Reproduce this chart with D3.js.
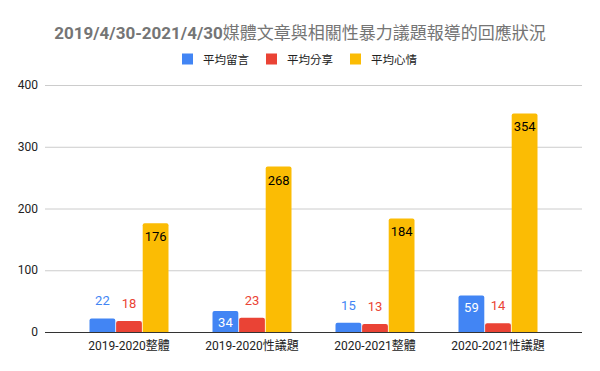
<!DOCTYPE html>
<html><head><meta charset="utf-8">
<script src="https://cdn.jsdelivr.net/npm/d3@7"></script>
<style>body{margin:0;background:#fff}text{font-family:Roboto,"Noto Sans CJK TC",sans-serif}</style>
</head><body><svg id="c" width="600" height="371"></svg>
<script>
const categories = ["2019-2020整體","2019-2020性議題","2020-2021整體","2020-2021性議題"];
const seriesNames = ["平均留言","平均分享","平均心情"];
const comments = [22,34,15,59];
const shares = [18,23,13,14];
const reactions = [176,268,184,354];
const yTicks = [0,100,200,300,400];
const colors = ["#4285f4","#ea4335","#fbbc04"];
const titleLatin = "2019/4/30-2021/4/30";
const titleCJK = "媒體文章與相關性暴力議題報導的回應狀況";

const series = [comments, shares, reactions];
const svg = d3.select("#c");
const y = d3.scaleLinear().domain([0,400]).range([332,85]);
const x = d3.scaleBand().domain(categories).range([67.5,559.5]);
const xs = d3.scaleBand().domain(d3.range(3)).range([0,79]).paddingInner(0.03);

const t = svg.append("text").attr("x",300).attr("y",39).attr("text-anchor","middle")
  .attr("font-size",17).attr("fill","#757575");
t.append("tspan").attr("font-weight","bold").text(titleLatin);
t.append("tspan").attr("font-weight","normal").text(titleCJK);

// legend
const legX = [182,266,350];
seriesNames.forEach((n,i)=>{
  svg.append("rect").attr("x",legX[i]).attr("y",53.5).attr("width",11).attr("height",11).attr("fill",colors[i]);
  svg.append("text").attr("x",legX[i]+21).attr("y",63.5).attr("font-size",11.5).attr("fill","#222").text(n);
});

// grid
const g = svg.append("g");
yTicks.forEach(tk=>{
  if(tk>0) g.append("line").attr("x1",45).attr("x2",582).attr("y1",y(tk)+0.5).attr("y2",y(tk)+0.5).attr("stroke","#ccc");
  g.append("text").attr("x",38).attr("y",y(tk)+4).attr("text-anchor","end").attr("font-size",12).attr("fill","#222").text(tk);
});

function barPath(x0,w,yt,yb){
  const r=Math.min(2,(yb-yt));
  return `M${x0},${yb}V${yt+r}Q${x0},${yt} ${x0+r},${yt}H${x0+w-r}Q${x0+w},${yt} ${x0+w},${yt+r}V${yb}Z`;
}

categories.forEach((c,ci)=>{
  series.forEach((s,si)=>{
    const v=s[ci];
    const bx = x(c)+22+xs(si), bw = xs.bandwidth();
    svg.append("path").attr("d",barPath(bx,bw,y(v),y(0))).attr("fill",colors[si]);
    const inside = (y(0)-y(v))>20;
    const lab = svg.append("text").attr("x",bx+bw/2).attr("text-anchor","middle").attr("font-size",13).text(v);
    if(inside){
      lab.attr("y",y(v)+(si===2?18:16)).attr("fill",si===2?"#000":"#fff");
    } else {
      lab.attr("y",y(v)-13).attr("fill",colors[si]);
    }
  });
  svg.append("text").attr("x",x(c)+x.bandwidth()/2).attr("y",350).attr("text-anchor","middle")
    .attr("font-size",12).attr("fill","#222").text(c);
});

svg.append("line").attr("x1",45).attr("x2",582).attr("y1",332.5).attr("y2",332.5).attr("stroke","#333");
</script></body></html>
